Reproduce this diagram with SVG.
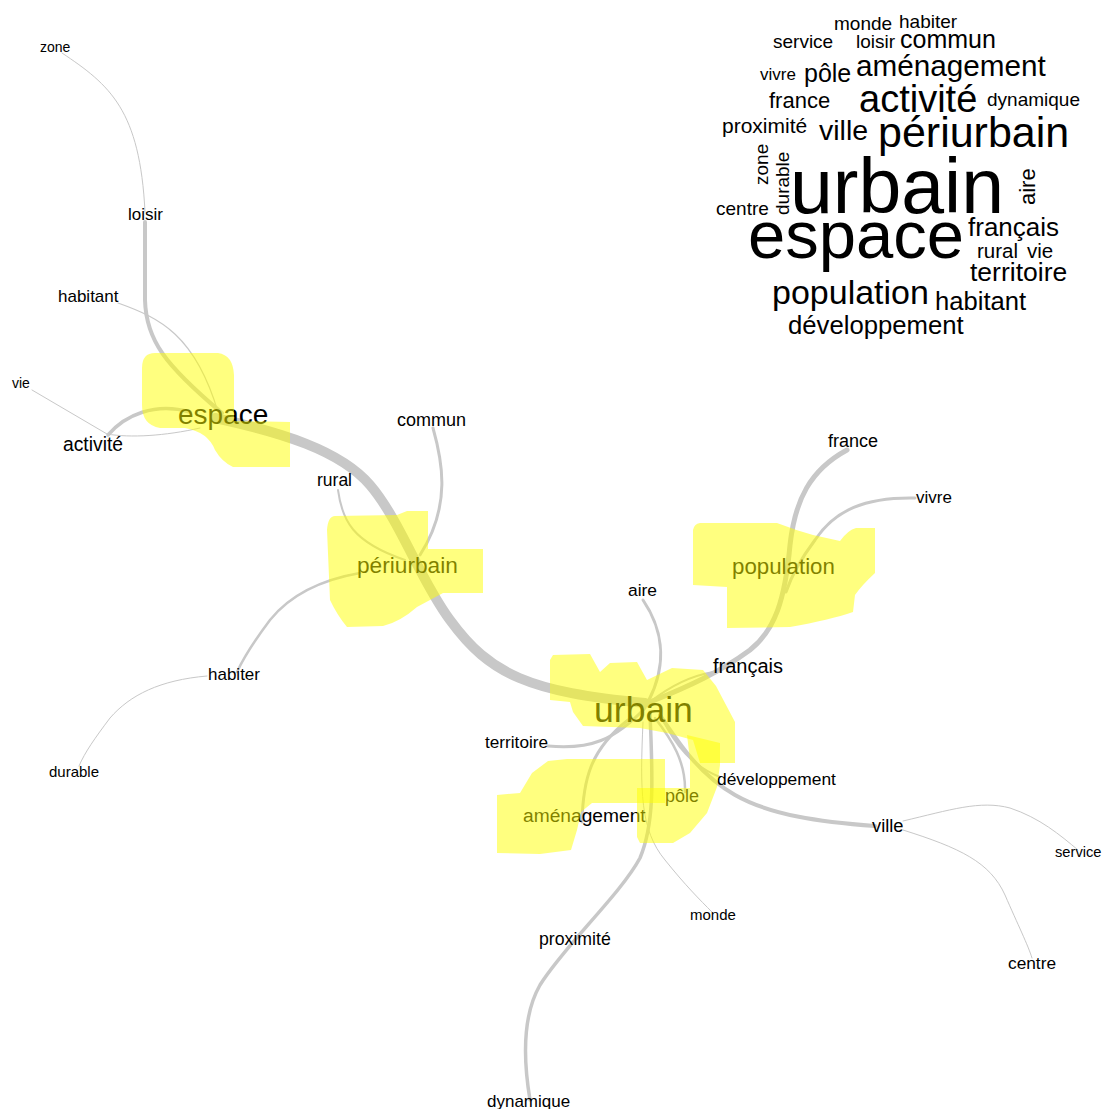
<svg xmlns="http://www.w3.org/2000/svg" width="1104" height="1109" viewBox="0 0 1104 1109">
<style>
text{font-family:"Liberation Sans",Arial,sans-serif;fill:#000}
.e{fill:none;stroke:#c8c8c8;stroke-linecap:round;stroke-linejoin:round}
.hl{fill:#ffff00;fill-opacity:0.5;stroke:none}
</style>
<rect width="1104" height="1109" fill="#fff"/>
<g id="connectors">
<path class="e" stroke-width="1" d="M62,53 C110,85 140,110 145,212"/>
<path class="e" stroke-width="4" d="M145,222 L145,300 C146,340 165,365 222,413"/>
<path class="e" stroke-width="1.2" d="M118,303 C160,318 195,335 218,412"/>
<path class="e" stroke-width="1" d="M32,390 L107,434 C130,438 165,436 200,428"/>
<path class="e" stroke-width="3.5" d="M108,435 C125,415 155,402 190,412"/>
<path class="e" stroke-width="10" d="M215,418 C280,432 340,450 370,485 C400,520 420,580 450,620 C490,675 530,692 645,703"/>
<path class="e" stroke-width="2" d="M338,490 C342,520 352,542 405,560"/>
<path class="e" stroke-width="3" d="M433,428 C442,460 452,505 420,555"/>
<path class="e" stroke-width="2.5" d="M360,573 C320,580 290,595 270,620 C255,640 245,655 237,672"/>
<path class="e" stroke-width="1" d="M207,676 C160,680 130,695 110,718 C95,738 85,752 79,766"/>
<path class="e" stroke-width="5" d="M847,450 C810,470 795,500 790,545 C785,600 775,630 750,650 C720,672 690,686 650,702"/>
<path class="e" stroke-width="3" d="M915,498 C865,497 835,510 815,540 C800,560 790,580 786,592"/>
<path class="e" stroke-width="3" d="M643,600 C660,625 670,660 648,702"/>
<path class="e" stroke-width="2" d="M713,672 C690,676 670,686 650,702"/>
<path class="e" stroke-width="3" d="M548,746 C590,750 615,740 645,708"/>
<path class="e" stroke-width="3" d="M582,822 C583,780 590,750 628,720"/>
<path class="e" stroke-width="2.5" d="M655,718 C672,740 686,762 685,792"/>
<path class="e" stroke-width="4" d="M660,715 C680,745 700,775 735,795 C770,815 820,822 875,826"/>
<path class="e" stroke-width="2" d="M662,718 C675,745 692,766 720,777"/>
<path class="e" stroke-width="1" d="M903,821 C950,810 980,800 1010,808 C1040,818 1060,835 1078,850"/>
<path class="e" stroke-width="1" d="M903,830 C960,848 990,862 1005,895 C1018,925 1028,945 1032,958"/>
<path class="e" stroke-width="1" d="M643,722 C640,790 640,830 665,860 C685,885 700,900 712,912"/>
<path class="e" stroke-width="3.5" d="M650,712 C652,770 656,820 640,858 C620,895 565,945 540,985 C520,1020 525,1070 530,1100"/>
</g>
<g id="node-zone"><text x="40" y="52" font-size="14">zone</text></g>
<g id="node-loisir"><text x="128" y="220" font-size="17">loisir</text></g>
<g id="node-habitant"><text x="58" y="302" font-size="17">habitant</text></g>
<g id="node-vie"><text x="12" y="388" font-size="14">vie</text></g>
<g id="node-activite"><text x="63" y="451" font-size="19.3">activité</text></g>
<g id="node-espace"><text x="178" y="424" font-size="28">espace</text></g>
<g id="node-commun"><text x="397" y="426" font-size="18">commun</text></g>
<g id="node-rural"><text x="317" y="486" font-size="17.5">rural</text></g>
<g id="node-periurbain"><text x="357" y="573" font-size="22.7">périurbain</text></g>
<g id="node-habiter"><text x="208" y="680" font-size="17">habiter</text></g>
<g id="node-durable"><text x="49" y="777" font-size="15">durable</text></g>
<g id="node-france"><text x="828" y="447" font-size="18">france</text></g>
<g id="node-vivre"><text x="916" y="503" font-size="17">vivre</text></g>
<g id="node-population"><text x="732" y="574" font-size="22.3">population</text></g>
<g id="node-aire"><text x="628" y="596" font-size="17.4">aire</text></g>
<g id="node-francais"><text x="713" y="673" font-size="20">français</text></g>
<g id="node-urbain"><text x="594" y="722" font-size="35.6">urbain</text></g>
<g id="node-territoire"><text x="485" y="748" font-size="17.2">territoire</text></g>
<g id="node-developpement"><text x="717" y="785" font-size="17.4">développement</text></g>
<g id="node-pole"><text x="665" y="802" font-size="18">pôle</text></g>
<g id="node-amenagement"><text x="523" y="822" font-size="19.2">aménagement</text></g>
<g id="node-ville"><text x="872" y="832" font-size="18.3">ville</text></g>
<g id="node-service"><text x="1055" y="857" font-size="14.7">service</text></g>
<g id="node-centre"><text x="1008" y="969" font-size="17.3">centre</text></g>
<g id="node-monde"><text x="690" y="920" font-size="15">monde</text></g>
<g id="node-proximite"><text x="539" y="945" font-size="17.7">proximité</text></g>
<g id="node-dynamique"><text x="487" y="1107" font-size="17">dynamique</text></g>
<g id="highlights">
<path class="hl" d="M155,353 L218,353 Q233,355 234,375 L234,421 L290,422 L290,467 L233,467 Q222,462 215,450 Q208,432 185,428 L160,428 Q142,425 142,405 L142,368 Q142,353 155,353 Z"/>
<path class="hl" d="M335,516 L397,515 L407,511 L428,511 L428,549 L483,549 L483,593 L443,593 Q430,600 417,607 Q400,622 383,626 L347,627 Q337,615 330,600 L327,530 Q328,516 335,516 Z"/>
<path class="hl" d="M700,523 L777,523 Q795,530 813,535 L840,541 Q848,530 856,528 L875,528 L875,573 Q862,585 855,595 L853,612 Q830,620 790,627 L727,628 L727,587 L693,585 L693,530 Q694,524 700,523 Z"/>
<path class="hl" d="M553,655 L590,654 L600,672 L610,663 L637,662 L647,680 L672,668 L703,670 L716,686 L735,722 L735,763 L700,763 L693,740 L667,733 L640,728 L583,726 L573,712 L570,702 L550,700 L550,660 Z"/>
<path class="hl" d="M687,735 L720,743 L720,765 L717,787 L707,813 L690,833 L673,843 L640,843 L637,837 L637,788 L690,788 L690,760 Z"/>
<path class="hl" d="M497,795 L520,793 L532,773 L548,761 L567,759 L665,759 L665,803 L592,803 L581,812 L577,830 L571,850 L540,854 L497,853 Z"/>
</g>
<g id="wordcloud">
<text x="834" y="30" font-size="19">monde</text>
<text x="899" y="28" font-size="19">habiter</text>
<text x="773" y="48" font-size="19">service</text>
<text x="856" y="48" font-size="19">loisir</text>
<text x="900" y="48" font-size="25">commun</text>
<text x="760" y="80" font-size="17">vivre</text>
<text x="804" y="82" font-size="25">pôle</text>
<text x="856" y="76" font-size="29.7">aménagement</text>
<text x="769" y="108" font-size="22">france</text>
<text x="859" y="112" font-size="38">activité</text>
<text x="987" y="106" font-size="19">dynamique</text>
<text x="722" y="133" font-size="21">proximité</text>
<text x="819" y="140" font-size="28.5">ville</text>
<text x="878" y="147" font-size="43">périurbain</text>
<text transform="translate(768,185) rotate(-90)" font-size="19">zone</text>
<text transform="translate(789,215) rotate(-90)" font-size="19">durable</text>
<text x="790" y="213" font-size="77">urbain</text>
<text transform="translate(1035,205) rotate(-90)" font-size="22">aire</text>
<text x="716" y="215" font-size="19">centre</text>
<text x="748" y="258" font-size="67">espace</text>
<text x="968" y="236" font-size="26">français</text>
<text x="977" y="258" font-size="20.5">rural</text>
<text x="1027" y="258" font-size="20.5">vie</text>
<text x="970" y="281" font-size="26.5">territoire</text>
<text x="772" y="304" font-size="34">population</text>
<text x="935" y="310" font-size="25.6">habitant</text>
<text x="788" y="334" font-size="25.7">développement</text>
</g>
</svg>
